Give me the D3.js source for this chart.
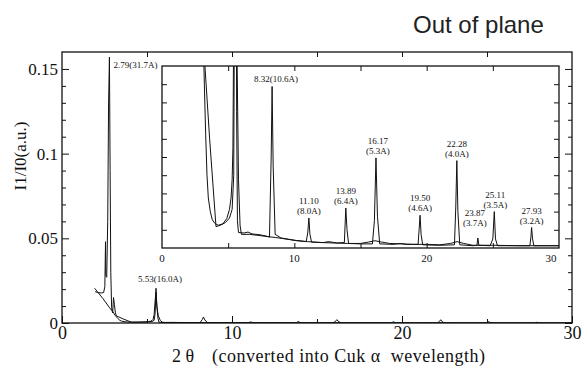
<!DOCTYPE html>
<html><head><meta charset="utf-8">
<script src="https://cdn.jsdelivr.net/npm/d3@7"></script>
<style>
html,body{margin:0;padding:0;background:#fff;}
svg{display:block;}
text{font-family:"Liberation Serif","DejaVu Serif",serif;fill:#111;}
</style></head>
<body>
<svg id="chart" width="582" height="367"></svg>
<script>
// ---------------- data ----------------
const chartTitle = "Out of plane";
const xAxisTitleA = "2 θ";
const xAxisTitleB = "(converted into Cuk α  wevelength)";
const yAxisTitle = "I1/I0(a.u.)";

const mainXTicks = [0, 10, 20, 30];
const mainXMinorTicks = [5, 15, 25];
const mainYTicks = [0, 0.05, 0.1, 0.15];
const mainYTickLabels = ["0", "0.05", "0.1", "0.15"];
const mainYMinorTicks = [0.01, 0.02, 0.03, 0.04, 0.06, 0.07, 0.08, 0.09, 0.11, 0.12, 0.13, 0.14];
const insetXTicks = [0, 10, 20, 30];
const insetXMinorTicks = [5, 15, 25];
const insetYTicks = [0.0004, 0.0008, 0.0012, 0.0016, 0.002, 0.0024, 0.0028, 0.0032, 0.0036];

// sample with sharp reflections (2θ, I1/I0)
const seriesSharp = [
 [1.95,0.0185],[2.1,0.0180],[2.3,0.0177],[2.45,0.0180],[2.52,0.0215],[2.56,0.0480],[2.58,0.0280],
 [2.63,0.0270],[2.69,0.0600],[2.74,0.1300],[2.79,0.1570],[2.83,0.0900],[2.87,0.0300],[2.92,0.0090],
 [2.98,0.0060],[3.03,0.0150],[3.08,0.0110],[3.14,0.0060],[3.20,0.0042],[3.60,0.0024],[4.08,0.00047],
 [4.4,0.00050],[4.8,0.00056],[5.1,0.00066],[5.3,0.00085],[5.42,0.0016],[5.48,0.0060],[5.53,0.0205],
 [5.58,0.0100],[5.64,0.0030],[5.70,0.0006],[5.78,0.00034],[6.2,0.00033],[6.5,0.00035],[6.8,0.00031],
 [7.4,0.00029],[7.9,0.00026],[8.12,0.00024],[8.25,0.0020],[8.32,0.00355],[8.40,0.0018],[8.55,0.00030],
 [9.0,0.00022],[9.6,0.00019],[10.2,0.00016],[10.9,0.00014],[11.02,0.00035],[11.10,0.00066],[11.18,0.00030],
 [11.3,0.00013],[12.2,0.00012],[12.6,0.00014],[13.2,0.00011],[13.78,0.00012],[13.89,0.00088],[13.98,0.0004],
 [14.1,0.0001],[15.0,0.00009],[15.9,0.00009],[16.05,0.0006],[16.17,0.00198],[16.28,0.0007],[16.45,0.00009],
 [17.5,0.00008],[18.0,0.0001],[18.5,0.00008],[19.35,0.00008],[19.43,0.0004],[19.50,0.00072],[19.58,0.0003],
 [19.7,0.00007],[21.0,0.00006],[22.1,0.00007],[22.2,0.0009],[22.28,0.00192],[22.36,0.0008],[22.5,0.00007],
 [23.5,0.00005],[23.80,0.00006],[23.87,0.00022],[23.94,0.00006],[24.8,0.00005],[25.0,0.0002],[25.11,0.0008],
 [25.2,0.0002],[25.35,0.00005],[26.5,0.00005],[27.8,0.00005],[27.88,0.00025],[27.93,0.00045],[28.0,0.0002],
 [28.1,0.00005],[29.0,0.00005],[30.0,0.00005]
];
// sample with smooth background
const seriesSmooth = [
 [1.92,0.0205],[2.0,0.0195],[2.4,0.0145],[2.8,0.0090],[3.0,0.0065],[3.12,0.0046],[3.2,0.0036],
 [3.3,0.0025],[3.4,0.0016],[3.5,0.00110],[3.65,0.00080],[3.8,0.00062],[4.0,0.00054],[4.25,0.00050],
 [4.6,0.00053],[4.9,0.00065],[5.1,0.00085],[5.22,0.0011],[5.30,0.0015],[5.36,0.0022],[5.42,0.0050],
 [5.47,0.0120],[5.52,0.0180],[5.58,0.0100],[5.66,0.0045],[5.78,0.0015],[5.90,0.0005],[6.0,0.00030],[6.6,0.00030],
 [7.2,0.00028],[8.0,0.00025],[8.6,0.00023],[9.3,0.00020],[10,0.00017],[11,0.00014],[12,0.00012],
 [13,0.00011],[14,0.0001],[15,0.0001],[15.6,0.00013],[16.1,0.00016],[16.6,0.00013],[17.2,0.0001],
 [18,0.00009],[19,0.00008],[20,0.00008],[21,0.00007],[21.8,0.0001],[22.3,0.00014],[22.8,0.0001],
 [23.5,0.00006],[25,0.00006],[27,0.00005],[30,0.00005]
];

const mainPeakPos = [2.79, 5.53];
const mainPeakHeight = [0.157, 0.0205];
const mainPeakText = ["2.79(31.7A)", "5.53(16.0A)"];

const insetPeakPos = [8.32, 11.10, 13.89, 16.17, 19.50, 22.28, 23.87, 25.11, 27.93];
const insetPeakHeight = [0.00355, 0.00066, 0.00088, 0.00198, 0.00072, 0.00192, 0.00022, 0.0008, 0.00045];
const insetPeakLine1 = ["8.32(10.6A)", "11.10", "13.89", "16.17", "19.50", "22.28", "23.87", "25.11", "27.93"];
const insetPeakLine2 = ["", "(8.0A)", "(6.4A)", "(5.3A)", "(4.6A)", "(4.0A)", "(3.7A)", "(3.5A)", "(3.2A)"];

// ---------------- layout ----------------
const svg = d3.select("#chart");
const M = {l: 62, r: 572, t: 52, b: 323};
const I = {l: 162, r: 559, t: 66, b: 248};

const x = d3.scaleLinear().domain([0, 30]).range([M.l, M.r]);
const y = d3.scaleLinear().domain([0, 0.16]).range([M.b, M.t]);
const ix = d3.scaleLinear().domain([0, 30]).range([I.l, I.r]);
const iy = d3.scaleLinear().domain([0, 0.004]).range([I.b, I.t]);

const defs = svg.append("defs");
defs.append("clipPath").attr("id", "clipMain").append("rect")
  .attr("x", M.l).attr("y", M.t).attr("width", M.r - M.l).attr("height", M.b - M.t);
defs.append("clipPath").attr("id", "clipInset").append("rect")
  .attr("x", I.l).attr("y", I.t).attr("width", I.r - I.l).attr("height", I.b - I.t);

// title
svg.append("text").attr("x", 413).attr("y", 33)
  .style("font-family", "'Liberation Sans', Arial, sans-serif").style("font-size", "24px")
  .style("fill", "#222").text(chartTitle);

function strip(g) { g.select(".domain").remove(); g.selectAll(".tick line").attr("stroke", "#111"); }

// main axes
const fmtNone = () => "";
svg.append("g").attr("transform", `translate(${M.l},0)`)
  .call(d3.axisLeft(y).tickValues(mainYMinorTicks).tickSize(-4).tickFormat(fmtNone)).call(strip);
svg.append("g").attr("transform", `translate(${M.l},0)`)
  .call(d3.axisLeft(y).tickValues(mainYTicks).tickSize(-7).tickPadding(4)
    .tickFormat((d, i) => mainYTickLabels[i])).call(strip)
  .selectAll("text").style("font-size", "17px").style("font-family", "'Liberation Serif',serif").attr("fill", "#222");
svg.append("g").attr("transform", `translate(${M.r},0)`)
  .call(d3.axisRight(y).tickValues(mainYMinorTicks).tickSize(-4).tickFormat(fmtNone)).call(strip);
svg.append("g").attr("transform", `translate(${M.r},0)`)
  .call(d3.axisRight(y).tickValues(mainYTicks).tickSize(-7).tickFormat(fmtNone)).call(strip);

svg.append("g").attr("transform", `translate(0,${M.b})`)
  .call(d3.axisBottom(x).tickValues(mainXMinorTicks).tickSize(-4).tickFormat(fmtNone)).call(strip);
svg.append("g").attr("transform", `translate(0,${M.b})`)
  .call(d3.axisBottom(x).tickValues(mainXTicks).tickSize(-7).tickPadding(4).tickFormat(d3.format("d"))).call(strip)
  .selectAll("text").attr("dy", "0.75em").attr("y", 2).style("font-size", "18px").style("font-family", "'Liberation Serif',serif").attr("fill", "#222");
svg.append("g").attr("transform", `translate(0,${M.t})`)
  .call(d3.axisTop(x).tickValues(mainXMinorTicks.concat([10, 20])).tickSize(-5).tickFormat(fmtNone)).call(strip);

svg.append("rect").attr("x", M.l).attr("y", M.t).attr("width", M.r - M.l).attr("height", M.b - M.t)
  .attr("fill", "none").attr("stroke", "#111").attr("stroke-width", 1.3);

// axis titles
svg.append("text").attr("x", 172).attr("y", 362).style("font-size", "18px")
  .attr("fill", "#222").text(xAxisTitleA);
svg.append("text").attr("x", 212).attr("y", 362).style("font-size", "18px")
  .style("white-space", "pre").attr("textLength", 273).attr("lengthAdjust", "spacing")
  .attr("fill", "#222").text(xAxisTitleB);
svg.append("text").attr("transform", "translate(26,156) rotate(-90)").attr("text-anchor", "middle")
  .style("font-size", "17px").attr("fill", "#222").text(yAxisTitle);

// main curves
const lineMain = d3.line().x(d => x(d[0])).y(d => y(d[1]));
const gMain = svg.append("g").attr("clip-path", "url(#clipMain)");
[seriesSmooth, seriesSharp].forEach(s => {
  gMain.append("path").datum(s).attr("d", lineMain).attr("fill", "none")
    .attr("stroke", "#111").attr("stroke-width", 1).attr("stroke-linejoin", "round");
});

// main peak labels
svg.append("text").attr("x", x(mainPeakPos[0]) + 4).attr("y", y(mainPeakHeight[0]) + 11)
  .style("font-size", "9px").text(mainPeakText[0]);
svg.append("text").attr("x", x(mainPeakPos[1]) + 4).attr("y", y(mainPeakHeight[1]) - 6)
  .attr("text-anchor", "middle").style("font-size", "9px").text(mainPeakText[1]);

// ---------------- inset ----------------
svg.append("rect").attr("x", I.l).attr("y", I.t).attr("width", I.r - I.l).attr("height", I.b - I.t)
  .attr("fill", "#fff");
const gIn = svg.append("g").attr("clip-path", "url(#clipInset)");
const lineIn = d3.line().x(d => ix(d[0])).y(d => iy(d[1]));
[seriesSmooth, seriesSharp].forEach(s => {
  gIn.append("path").datum(s).attr("d", lineIn).attr("fill", "none")
    .attr("stroke", "#111").attr("stroke-width", 1).attr("stroke-linejoin", "round");
});

svg.append("g").attr("transform", `translate(${I.l},0)`)
  .call(d3.axisLeft(iy).tickValues(insetYTicks).tickSize(-5).tickFormat(fmtNone)).call(strip);
svg.append("g").attr("transform", `translate(${I.r},0)`)
  .call(d3.axisRight(iy).tickValues(insetYTicks).tickSize(-5).tickFormat(fmtNone)).call(strip);
svg.append("g").attr("transform", `translate(0,${I.t})`)
  .call(d3.axisTop(ix).tickValues(insetXMinorTicks.concat([10, 20])).tickSize(-5).tickFormat(fmtNone)).call(strip);
svg.append("g").attr("transform", `translate(0,${I.b})`)
  .call(d3.axisBottom(ix).tickValues(insetXMinorTicks.concat([10, 20])).tickSize(-5).tickFormat(fmtNone)).call(strip);
svg.append("rect").attr("x", I.l).attr("y", I.t).attr("width", I.r - I.l).attr("height", I.b - I.t)
  .attr("fill", "none").attr("stroke", "#111").attr("stroke-width", 1.3);

// inset tick labels
svg.append("g").selectAll("text").data(insetXTicks).join("text")
  .attr("x", (d, i) => ix(d) - (i === insetXTicks.length - 1 ? 8 : 0))
  .attr("y", I.b + 14).attr("text-anchor", "middle").style("font-size", "11px")
  .text(d => d);

// inset peak labels
const nudgeX = [4, 0, 0, 2, 0, 0, -3, 1, 0];
const nudgeY = [0, 0, 0, 0, 0, 0, -8, 0, 0];
const gLab = svg.append("g").style("font-size", "9px").attr("text-anchor", "middle");
insetPeakPos.forEach((p, i) => {
  const cx = ix(p) + nudgeX[i];
  const top = iy(insetPeakHeight[i]) - 4 + nudgeY[i];
  if (insetPeakLine2[i]) {
    gLab.append("text").attr("x", cx).attr("y", top - 10).text(insetPeakLine1[i]);
    gLab.append("text").attr("x", cx).attr("y", top).text(insetPeakLine2[i]);
  } else {
    gLab.append("text").attr("x", cx).attr("y", top).text(insetPeakLine1[i]);
  }
});
</script>
</body></html>
